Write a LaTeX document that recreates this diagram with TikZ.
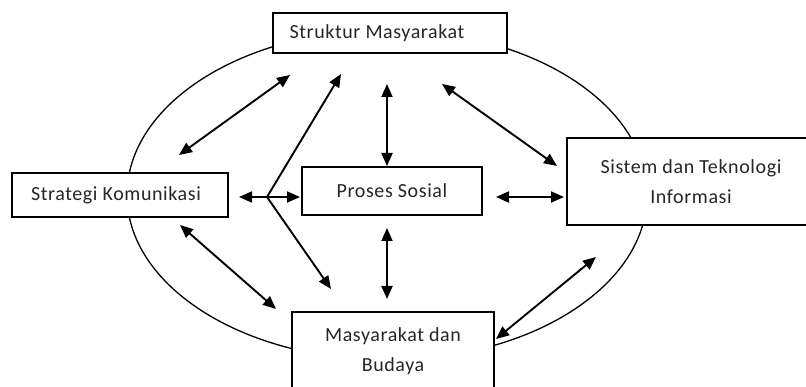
\documentclass[tikz,border=0pt]{standalone}
\usepackage{fontspec}
\setmainfont{Carlito}[LetterSpace=3]
\usetikzlibrary{arrows.meta}
\begin{document}
\begin{tikzpicture}[x=1pt,y=-1pt,
  box/.style={draw, line width=1.6pt, fill=white, inner sep=0pt, align=center,
    text=black!85, font=\fontsize{20}{30}\selectfont},
  link/.style={line width=1.9pt, {Triangle[length=13pt,width=11pt]}-{Triangle[length=13pt,width=11pt]}},
  onelink/.style={line width=1.9pt, -{Triangle[length=13pt,width=11pt]}},
  ring/.style={line width=1.3pt}]
\useasboundingbox (0,0) rectangle (806,387);
% ellipse
\draw[ring] (387,195) ellipse [x radius=260, y radius=165];
% boxes
\node[box, minimum width=234pt, minimum height=40pt] (sm) at (390,33) {\hspace*{-26pt}Struktur Masyarakat};
\node[box, minimum width=216pt, minimum height=44pt] (sk) at (120,195) {\hspace*{-8pt}Strategi Komunikasi};
\node[box, minimum width=180pt, minimum height=48pt] (ps) at (392,191) {Proses Sosial};
\node[box, minimum width=248pt, minimum height=87pt] (st) at (691,181.5) {Sistem dan Teknologi\\Informasi};
\node[box, minimum width=202pt, minimum height=78pt] (mb) at (393,351) {Masyarakat dan\\Budaya};
% arrow end points
\coordinate (a1) at (179,155); \coordinate (a2) at (290,75);
\coordinate (j) at (267,197); \coordinate (b1) at (341,74);
\coordinate (c1) at (387,84); \coordinate (c2) at (387,166);
\coordinate (d1) at (442,84); \coordinate (d2) at (557,166);
\coordinate (e1) at (239,197); \coordinate (e2) at (300,197);
\coordinate (f1) at (331,289);
\coordinate (g1) at (180,225); \coordinate (g2) at (276,309);
\coordinate (h1) at (387,228); \coordinate (h2) at (387,299);
\coordinate (i1) at (496,197); \coordinate (i2) at (564,197);
\coordinate (k1) at (496,339); \coordinate (k2) at (596,257);
% connectors
\draw[link] (a1) -- (a2);
\draw[onelink] (j) -- (b1);
\draw[link] (c1) -- (c2);
\draw[link] (d1) -- (d2);
\draw[link] (e1) -- (e2);
\draw[onelink] (j) -- (f1);
\draw[link] (g1) -- (g2);
\draw[link] (h1) -- (h2);
\draw[link] (i1) -- (i2);
\draw[link] (k1) -- (k2);
\end{tikzpicture}
\end{document}
